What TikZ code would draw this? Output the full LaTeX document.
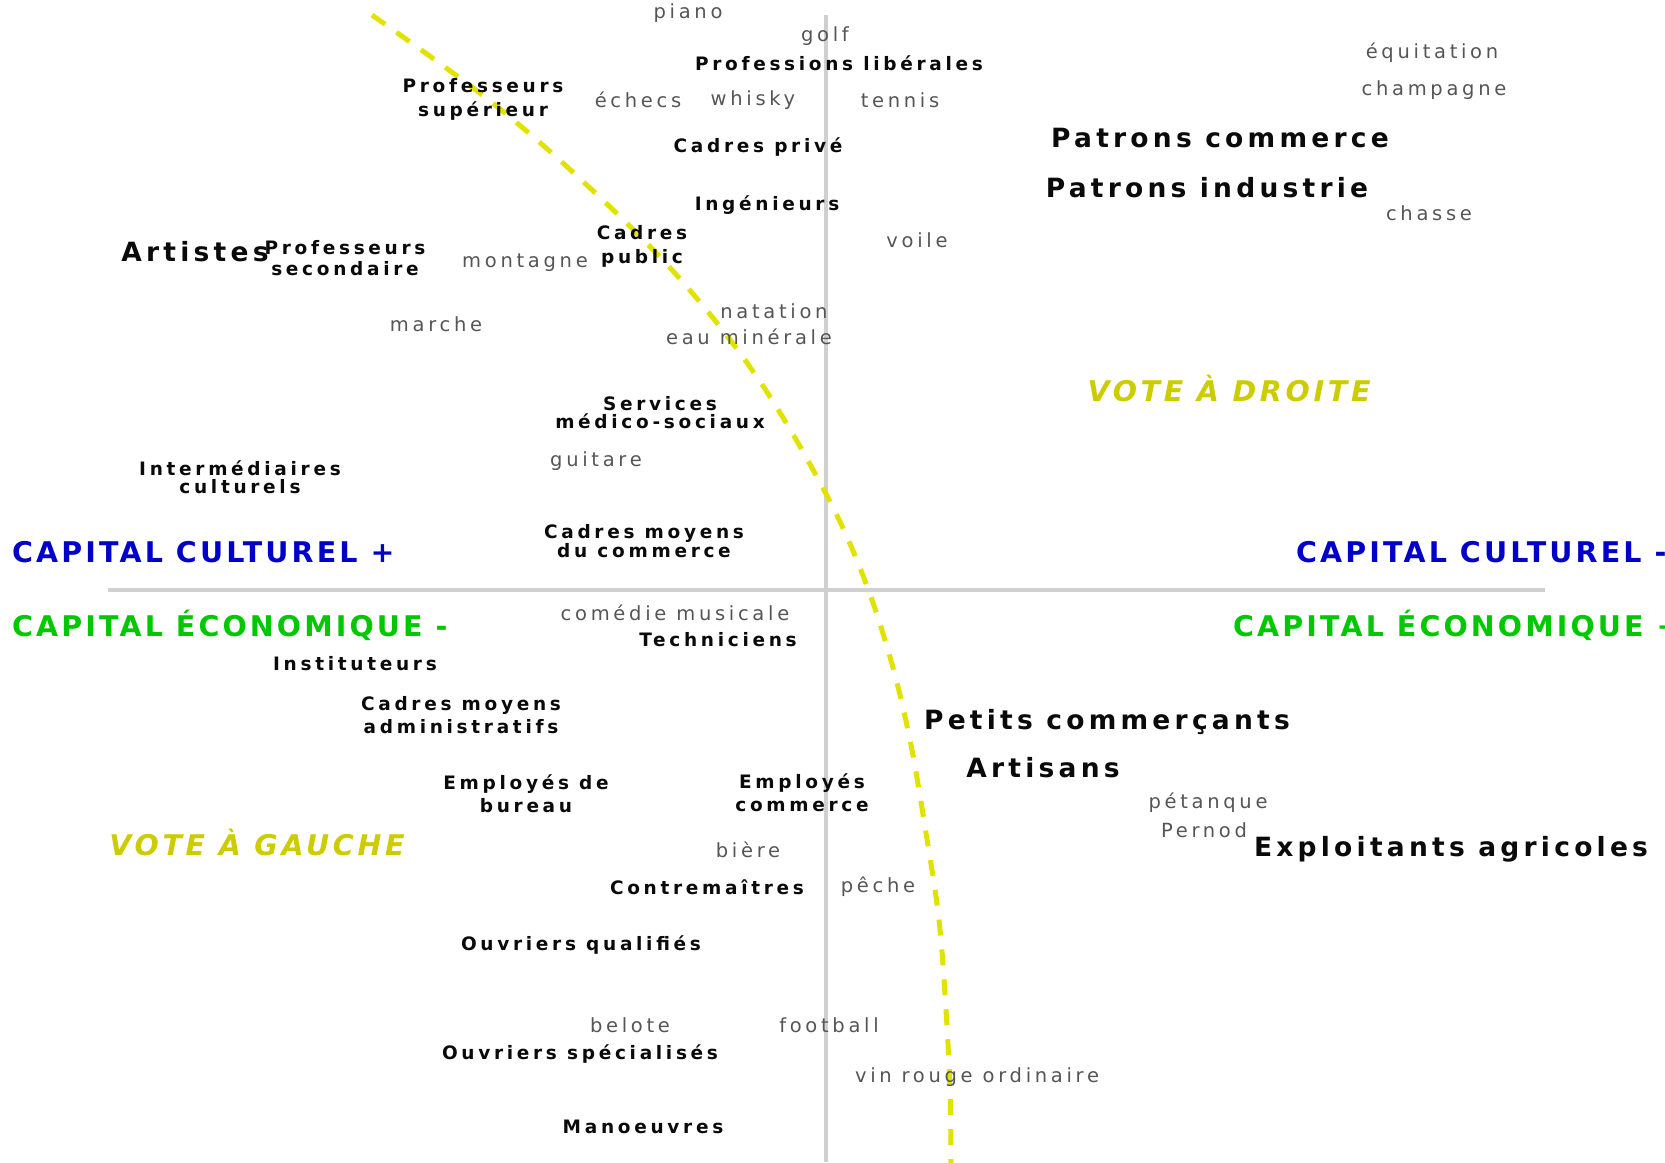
\documentclass[tikz,border=0pt]{standalone}
\usepackage{fontspec}
\setmainfont{DejaVu Sans}
\newfontfamily\fLbl{DejaVu Sans}[LetterSpace=20]
\newfontfamily\fBig{DejaVu Sans}[LetterSpace=16]
\newfontfamily\fAx{DejaVu Sans}[LetterSpace=11]
\newfontfamily\fVote{DejaVu Sans}[LetterSpace=13]
\newfontfamily\fHob{DejaVu Sans}[LetterSpace=19]
\definecolor{axgray}{RGB}{208,208,208}
\definecolor{dashyel}{RGB}{226,226,0}
\definecolor{voteyel}{RGB}{204,204,0}
\definecolor{capblue}{RGB}{0,0,200}
\definecolor{capgreen}{RGB}{0,200,0}
\definecolor{hobgray}{RGB}{85,85,85}
\definecolor{lblblack}{RGB}{10,10,10}
\tikzset{
  lbl/.style={font=\fLbl\bfseries\fontsize{18.5}{#1}\selectfont, align=center, inner sep=0pt, text=lblblack},
  lbl/.default=22,
  biglbl/.style={font=\fBig\bfseries\fontsize{26.5}{30}\selectfont, inner sep=0pt, text=lblblack},
  hobby/.style={font=\fHob\fontsize{19.5}{22}\selectfont, inner sep=0pt, text=hobgray},
  axlbl/.style={font=\fAx\bfseries\fontsize{28.5}{32}\selectfont, inner sep=0pt, anchor=west},
  vote/.style={font=\fVote\bfseries\itshape\fontsize{28.5}{32}\selectfont, inner sep=0pt, text=voteyel},
  axisline/.style={draw=axgray, line width=4.5pt},
  votecurve/.style={draw=dashyel, line width=5pt, dash pattern=on 16pt off 14pt}
}
\begin{document}
\begin{tikzpicture}[x=1pt,y=-1pt]
\useasboundingbox (0,0) rectangle (1665,1162);
\clip (0,0) rectangle (1665,1162);
% axes
\coordinate (vtop) at (826,15);
\coordinate (vbot) at (826,1162);
\coordinate (hl) at (108,590);
\coordinate (hr) at (1545,590);
\draw[axisline] (vtop) -- (vbot);
\draw[axisline] (hl) -- (hr);
% vote divide
\draw[votecurve] plot[smooth, tension=0.6] coordinates {(372,15) (490,101) (590,188) (681,280) (759,380) (824,490) (862,573) (890,657) (910,740) (926,833) (939,920) (946,1010) (950,1090) (951,1165)};
% axis labels
\node[axlbl, text=capblue] (ccp) at (12,552) {CAPITAL CULTUREL +};
\node[axlbl, text=capgreen] (cem) at (12,625.5) {CAPITAL ÉCONOMIQUE -};
\node[axlbl, text=capblue] (ccm) at (1296,552) {CAPITAL CULTUREL -};
\node[axlbl, text=capgreen] (cep) at (1233,625.5) {CAPITAL ÉCONOMIQUE +};
\node[vote] (vd) at (1229,388) {VOTE À DROITE};
\node[vote] (vg) at (257,842) {VOTE À GAUCHE};
% big labels
\node[biglbl] (artistes) at (195,252) {Artistes};
\node[biglbl] (patcom) at (1220,138) {Patrons commerce};
\node[biglbl] (patind) at (1207,188) {Patrons industrie};
\node[biglbl] (petcom) at (1107,722) {Petits commerçants};
\node[biglbl] (artisans) at (1043,768) {Artisans};
\node[biglbl] (exploit) at (1451,849.5) {Exploitants agricoles};
% labels
\node[lbl] (proflib) at (839,63.5) {Professions libérales};
\node[lbl=24] (profsup) at (483,99) {Professeurs\\supérieur};
\node[lbl] (cadpriv) at (758,147.5) {Cadres privé};
\node[lbl] (ingen) at (767,205.5) {Ingénieurs};
\node[lbl=24] (cadpub) at (642,246) {Cadres\\public};
\node[lbl=21] (profsec) at (345,258.5) {Professeurs\\secondaire};
\node[lbl=18] (servmed) at (660,412.5) {Services\\médico-sociaux};
\node[lbl=18] (intercult) at (240,477.5) {Intermédiaires\\culturels};
\node[lbl=18.5] (cmcom) at (644,541) {Cadres moyens\\du commerce};
\node[lbl] (techn) at (718,640) {Techniciens};
\node[lbl] (instit) at (355,663.5) {Instituteurs};
\node[lbl=23] (cmadm) at (461,715) {Cadres moyens\\administratifs};
\node[lbl=23] (empbur) at (526,794) {Employés de\\bureau};
\node[lbl=23] (empcom) at (802,793) {Employés\\commerce};
\node[lbl] (contre) at (707,887.5) {Contremaîtres};
\node[lbl] (ouvq) at (581,945.5) {Ouvriers qualifiés};
\node[lbl] (ouvs) at (580,1054.5) {Ouvriers spécialisés};
\node[lbl] (manoe) at (643,1127) {Manoeuvres};
% hobbies
\node[hobby] (piano) at (688,13) {piano};
\node[hobby] (golf) at (825,36) {golf};
\node[hobby] (echecs) at (638,100) {échecs};
\node[hobby] (whisky) at (753,100) {whisky};
\node[hobby] (tennis) at (900,100) {tennis};
\node[hobby] (equit) at (1432,53) {équitation};
\node[hobby] (champ) at (1434,90) {champagne};
\node[hobby] (chasse) at (1429,213) {chasse};
\node[hobby] (voile) at (917,240) {voile};
\node[hobby] (montagne) at (525,263) {montagne};
\node[hobby] (marche) at (436,324) {marche};
\node[hobby] (natation) at (774,311) {natation};
\node[hobby] (eau) at (749,337) {eau minérale};
\node[hobby] (guitare) at (596,461) {guitare};
\node[hobby] (comedie) at (675,613) {comédie musicale};
\node[hobby] (biere) at (748,850) {bière};
\node[hobby] (peche) at (878,887) {pêche};
\node[hobby] (belote) at (630,1025) {belote};
\node[hobby] (foot) at (829,1025) {football};
\node[hobby] (vin) at (977,1077) {vin rouge ordinaire};
\node[hobby] (petanque) at (1208,803) {pétanque};
\node[hobby] (pernod) at (1204,830) {Pernod};
\end{tikzpicture}
\end{document}
